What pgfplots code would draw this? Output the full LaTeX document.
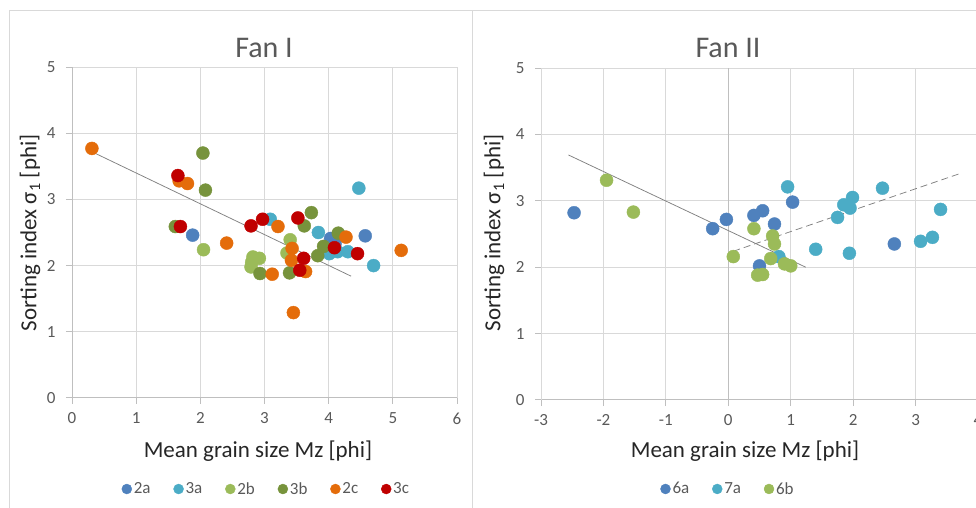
\documentclass[border=0pt]{standalone}
\usepackage{pgfplots}
\pgfplotsset{compat=1.18}
\usepackage{fontspec}
\setmainfont{Carlito}
\definecolor{c2a}{HTML}{4F81BD}
\definecolor{c3a}{HTML}{4BACC6}
\definecolor{c2b}{HTML}{9BBB59}
\definecolor{c3b}{HTML}{77933C}
\definecolor{c2c}{HTML}{E46C0A}
\definecolor{c3c}{HTML}{C00000}
\definecolor{gridgray}{HTML}{D9D9D9}
\definecolor{axisgray}{HTML}{BFBFBF}
\definecolor{ticktext}{HTML}{595959}
\definecolor{labeltext}{HTML}{262626}
\definecolor{trendgray}{HTML}{808080}
\pgfplotsset{
  panel/.style={
    scale only axis,
    grid=major,
    major grid style={gridgray, line width=1pt},
    axis line style={axisgray, line width=1pt},
    tick style={axisgray, line width=1pt},
    major tick length=6pt,
    tick align=outside,
    axis x line*=bottom,
    axis y line*=left,
    xtick distance=1, ytick distance=1,
    ymin=0, ymax=5,
    /pgf/number format/assume math mode=true,
    tick label style={font=\fontsize{17}{20}\selectfont, text=ticktext},
    xticklabel style={yshift=-5pt},
    yticklabel style={xshift=-7pt},
    legend style={draw=none, fill=none, legend columns=-1,
      font=\fontsize{17}{20}\selectfont, text=ticktext,
      /tikz/every even column/.append style={column sep=21pt}},
    legend image post style={mark size=5pt},
  },
  pt/.style={only marks, mark=*, mark size=6.5pt, color=#1},
}
\begin{document}
\begin{tikzpicture}[x=1pt,y=1pt]
\useasboundingbox (0,0) rectangle (976,508);
\draw[gridgray, line width=1pt] (9,0) -- (9,497) -- (976,497);
\draw[gridgray, line width=1pt] (472,0) -- (472,497);

\begin{axis}[panel, at={(72pt,110pt)}, anchor=south west,
  width=385pt, height=331pt, xmin=0, xmax=6,
  legend style={at={(0.505,-0.275)}, anchor=center}]
\addplot[no marks, trendgray, line width=0.75pt, forget plot] coordinates {(0.31,3.72) (4.35,1.84)};
\addplot[pt=c2a] coordinates {(1.88,2.46) (4.03,2.41) (4.10,2.33) (4.57,2.45)};
\addlegendentry{2a}
\addplot[pt=c3a] coordinates {(4.47,3.17) (3.09,2.70) (3.84,2.50) (4.01,2.18) (4.14,2.21) (4.30,2.21) (4.70,2.00)};
\addlegendentry{3a}
\addplot[pt=c2b] coordinates {(2.05,2.24) (3.40,2.39) (3.35,2.19) (2.82,2.13) (2.92,2.11) (2.79,1.98) (2.80,2.05)};
\addlegendentry{2b}
\addplot[pt=c3b] coordinates {(2.04,3.70) (2.08,3.14) (1.61,2.59) (3.73,2.80) (3.62,2.60) (4.15,2.49) (3.92,2.29) (3.83,2.15) (2.93,1.88) (3.39,1.89)};
\addlegendentry{3b}
\addplot[pt=c2c] coordinates {(0.31,3.77) (1.67,3.28) (1.80,3.24) (2.41,2.34) (3.21,2.59) (4.27,2.43) (5.13,2.23) (3.43,2.26) (3.42,2.08) (3.12,1.87) (3.64,1.91) (3.45,1.29)};
\addlegendentry{2c}
\addplot[pt=c3c] coordinates {(1.65,3.36) (1.69,2.59) (2.79,2.60) (2.97,2.70) (3.52,2.72) (3.61,2.11) (4.09,2.27) (4.45,2.18) (3.55,1.93)};
\addlegendentry{3c}
\end{axis}

\begin{axis}[panel, at={(541pt,108pt)}, anchor=south west,
  width=437pt, height=332pt, xmin=-3, xmax=4,
  y axis line style={gridgray},
  legend style={at={(0.428,-0.268)}, anchor=center}]
\draw[axisgray, line width=1pt] (axis cs:0,0) -- (axis cs:0,5);
\addplot[no marks, trendgray, line width=0.75pt, forget plot] coordinates {(-2.56,3.69) (1.24,2.00)};
\addplot[no marks, trendgray, line width=0.75pt, dash pattern=on 7pt off 4pt, forget plot] coordinates {(0.08,2.24) (3.71,3.41)};
\addplot[pt=c2a] coordinates {(-2.47,2.82) (-0.25,2.58) (-0.03,2.72) (0.41,2.78) (0.55,2.85) (0.74,2.65) (1.03,2.98) (0.50,2.02) (2.66,2.35)};
\addlegendentry{6a}
\addplot[pt=c3a] coordinates {(0.95,3.21) (0.81,2.16) (1.40,2.27) (1.75,2.75) (1.85,2.94) (1.99,3.05) (1.95,2.89) (2.47,3.19) (1.94,2.21) (3.08,2.39) (3.27,2.45) (3.40,2.87)};
\addlegendentry{7a}
\addplot[pt=c2b] coordinates {(-1.95,3.31) (-1.52,2.83) (0.41,2.58) (0.71,2.47) (0.74,2.35) (0.08,2.16) (0.68,2.13) (0.90,2.05) (1.00,2.02) (0.47,1.88) (0.55,1.89)};
\addlegendentry{6b}
\end{axis}

\node[font=\fontsize{30}{34}\selectfont, text=ticktext] at (264,460) {Fan I};
\node[font=\fontsize{30}{34}\selectfont, text=ticktext] at (728,460) {Fan II};
\node[font=\fontsize{23}{27}\selectfont, text=labeltext] at (258,57) {Mean grain size Mz [phi]};
\node[font=\fontsize{23}{27}\selectfont, text=labeltext] at (745,57) {Mean grain size Mz [phi]};
\node[font=\fontsize{23}{27}\selectfont, text=labeltext, rotate=90] at (30,275) {Sorting index σ\textsubscript{1} [phi]};
\node[font=\fontsize{23}{27}\selectfont, text=labeltext, rotate=90] at (494,275) {Sorting index σ\textsubscript{1} [phi]};
\end{tikzpicture}
\end{document}
